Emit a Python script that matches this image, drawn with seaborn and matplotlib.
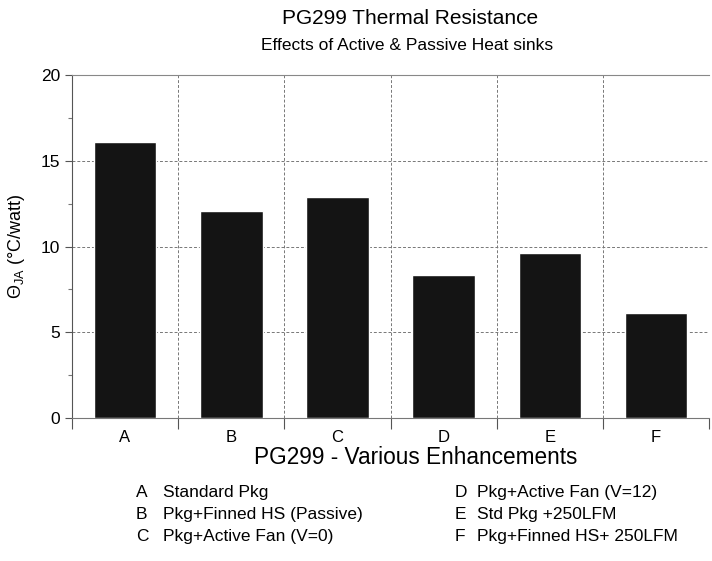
import numpy as np
import pandas as pd
import matplotlib
matplotlib.use('Agg')
import matplotlib.pyplot as plt
from matplotlib.ticker import MultipleLocator, FixedLocator
import seaborn as sns

# data
categories = ['A', 'B', 'C', 'D', 'E', 'F']
theta_ja = [16.1, 12.05, 12.9, 8.35, 9.6, 6.15]
descriptions = ['Standard Pkg', 'Pkg+Finned HS (Passive)', 'Pkg+Active Fan (V=0)',
                'Pkg+Active Fan (V=12)', 'Std Pkg +250LFM', 'Pkg+Finned HS+ 250LFM']

df = pd.DataFrame({'cat': categories, 'theta': theta_ja})

sns.set_style('white')
plt.rcParams['font.family'] = ['Liberation Sans', 'DejaVu Sans']
plt.rcParams['text.color'] = 'black'
plt.rcParams['axes.labelcolor'] = 'black'
plt.rcParams['xtick.color'] = 'black'
plt.rcParams['ytick.color'] = 'black'
plt.rcParams['mathtext.fontset'] = 'custom'
plt.rcParams['mathtext.rm'] = 'Liberation Sans'
plt.rcParams['mathtext.it'] = 'Liberation Sans'

fig = plt.figure(figsize=(7.12, 5.61), dpi=100)
ax = fig.add_axes([0.101, 0.255, 0.895, 0.611])

sns.barplot(data=df, x='cat', y='theta', color='#141414', width=0.59,
            saturation=1, ax=ax, zorder=3)

ax.set_xlim(-0.5, 5.5)
ax.set_ylim(0, 20)
ax.yaxis.set_major_locator(MultipleLocator(5))
ax.yaxis.set_minor_locator(MultipleLocator(2.5))
ax.xaxis.set_minor_locator(FixedLocator(np.arange(-0.5, 6, 1)))
ax.tick_params(bottom=True, left=True, which='both')
ax.tick_params(axis='x', which='major', length=0, labelsize=12, pad=9)
ax.tick_params(axis='x', which='minor', length=8, direction='out', color='#555555', width=0.8)
ax.tick_params(axis='y', which='major', length=5, direction='out', labelsize=12.5, color='#555555', width=0.8)
ax.tick_params(axis='y', which='minor', length=3, direction='out', color='#777777', width=0.8)

ax.grid(True, axis='y', which='major', linestyle=(0, (3, 2)), color='#777777', linewidth=0.7, zorder=0)
ax.grid(True, axis='x', which='minor', linestyle=(0, (3, 2)), color='#777777', linewidth=0.7, zorder=0)

ax.spines['right'].set_visible(False)
ax.spines['top'].set_color('#888888')
ax.spines['top'].set_linewidth(0.8)
ax.spines['left'].set_color('#555555')
ax.spines['bottom'].set_color('#777777')
ax.spines['left'].set_linewidth(0.8)
ax.spines['bottom'].set_linewidth(0.8)

ax.set_ylabel(r'$\Theta_{JA}$ (°C/watt)', fontsize=13, labelpad=10)
ax.set_xlabel('')
fig.text(416 / 712, 1 - 457 / 561, 'PG299 - Various Enhancements', ha='center', va='center', fontsize=16.3)

fig.text(410 / 712, 1 - 18 / 561, 'PG299 Thermal Resistance', ha='center', va='center', fontsize=15)
fig.text(407 / 712, 1 - 46 / 561, 'Effects of Active & Passive Heat sinks', ha='center', va='center', fontsize=12.5)

# legend block
for i in range(3):
    y = 1 - (497 + i * 22) / 561
    fig.text(136 / 712, y, categories[i], ha='left', va='baseline', fontsize=12.5)
    fig.text(163 / 712, y, descriptions[i], ha='left', va='baseline', fontsize=12.5)
    fig.text(455 / 712, y, categories[i + 3], ha='left', va='baseline', fontsize=12.5)
    fig.text(477 / 712, y, descriptions[i + 3], ha='left', va='baseline', fontsize=12.5)

fig.savefig('out.png', dpi=100)
